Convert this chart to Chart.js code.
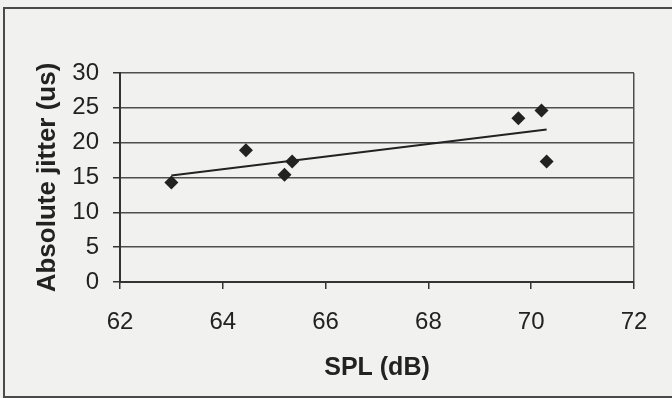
<!DOCTYPE html>
<html>
<head>
<meta charset="utf-8">
<script src="https://cdn.jsdelivr.net/npm/chart.js@4/dist/chart.umd.min.js"></script>
<style>
  html, body { margin: 0; padding: 0; background: #f1f1f0; }
  #wrap { position: relative; width: 672px; height: 398px; overflow: hidden; }
  #frame { position: absolute; left: 3px; top: 7px; width: 700px; height: 387px; border: 2px solid #4a4a4a; }
  #chart { position: absolute; left: 0; top: 0; }
</style>
</head>
<body>
<div id="wrap">
  <div id="frame"></div>
  <canvas id="chart" width="672" height="398"></canvas>
</div>
<script>
// measured points: SPL (dB) vs absolute jitter (us)
const splValues = [63.0, 64.45, 65.2, 65.35, 69.75, 70.2, 70.3];
const jitterValues = [14.3, 18.9, 15.4, 17.3, 23.5, 24.6, 17.3];

// trend line end points
const trendSpl = [63.0, 70.3];
const trendJitter = [15.3, 21.9];

const xTicks = [62, 64, 66, 68, 70, 72];
const yTicks = [0, 5, 10, 15, 20, 25, 30];

const ink = '#222222';
const gridColor = '#4f4f4f';
const fontFamily = 'Liberation Sans, Arial, sans-serif';

const points = splValues.map((x, i) => ({ x: x, y: jitterValues[i] }));
const trend = trendSpl.map((x, i) => ({ x: x, y: trendJitter[i] }));

new Chart(document.getElementById('chart'), {
    type: 'scatter',
    data: {
        datasets: [{
            label: 'Jitter',
            data: points,
            pointStyle: 'rectRot',
            pointRadius: 7,
            backgroundColor: ink,
            borderColor: ink,
            borderWidth: 0
        }, {
            label: 'Trend',
            type: 'line',
            data: trend,
            borderColor: ink,
            borderWidth: 2,
            pointRadius: 0,
            fill: false
        }]
    },
    options: {
        responsive: false,
        animation: false,
        layout: { padding: { left: 0, right: 38, top: 73, bottom: 0 } },
        plugins: { legend: { display: false }, tooltip: { enabled: false } },
        scales: {
            x: {
                type: 'linear',
                min: 62,
                max: 72,
                afterBuildTicks: (scale) => { scale.ticks = xTicks.map(v => ({ value: v })); },
                afterFit: (scale) => { scale.height = 116; },
                border: { color: '#333', width: 2 },
                grid: {
                    color: (ctx) => (ctx.tick && ctx.tick.value === 72) ? gridColor : 'transparent',
                    tickColor: '#333',
                    tickLength: 7,
                    lineWidth: 1.5
                },
                ticks: {
                    color: ink,
                    padding: 19,
                    maxRotation: 0,
                    font: { family: fontFamily, size: 24 }
                },
                title: {
                    display: true,
                    text: 'SPL (dB)',
                    color: ink,
                    padding: { top: 0, bottom: 15 },
                    font: { family: fontFamily, size: 25, weight: 'bold' }
                }
            },
            y: {
                min: 0,
                max: 30,
                afterBuildTicks: (scale) => { scale.ticks = yTicks.map(v => ({ value: v })); },
                afterFit: (scale) => { scale.width = 120; },
                border: { color: '#333', width: 2 },
                grid: {
                    color: gridColor,
                    tickColor: '#333',
                    tickLength: 7,
                    lineWidth: 1.5
                },
                ticks: {
                    color: ink,
                    padding: 14,
                    font: { family: fontFamily, size: 24 }
                },
                title: {
                    display: true,
                    text: 'Absolute jitter (us)',
                    color: ink,
                    padding: { top: 32, bottom: 0 },
                    font: { family: fontFamily, size: 26, weight: 'bold' }
                }
            }
        }
    }
});
</script>
</body>
</html>
